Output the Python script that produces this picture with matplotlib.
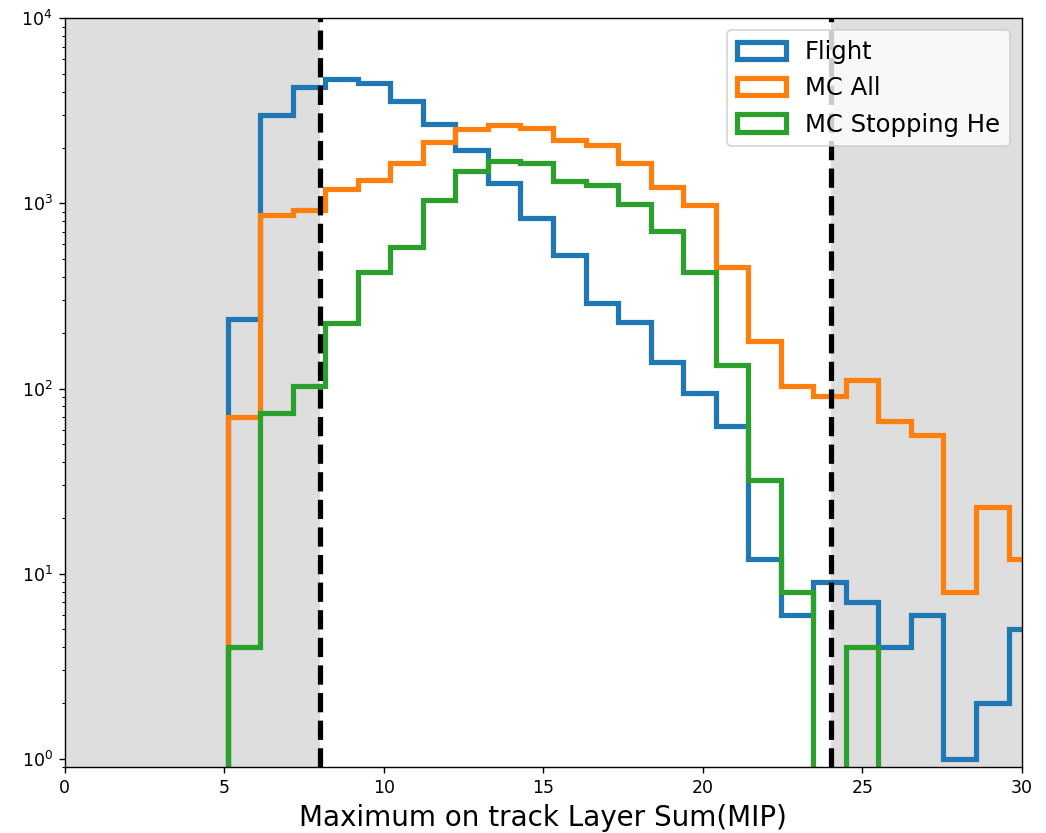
import numpy as np
import matplotlib
matplotlib.use("Agg")
import matplotlib.pyplot as plt

# bin edges (MIP)
edges = np.linspace(5.1, 30.6, 26)

flight = [237, 3020, 4260, 4730, 4480, 3580, 2670, 1937, 1291, 839, 525, 288, 229,
          139, 95, 63, 12, 6, 9, 7, 4, 6, 1, 2, 5]
mc_all = [70, 863, 919, 1203, 1334, 1655, 2148, 2539, 2645, 2558, 2194, 2061, 1663,
          1228, 977, 454, 181, 103, 91, 111, 67, 56, 8, 23, 12]
mc_stop = [4, 74, 103, 227, 426, 582, 1041, 1493, 1691, 1663, 1319, 1265, 998,
           708, 426, 134, 32, 8, 0, 4, 0, 0, 0, 0, 0]

labels = ["Flight", "MC All", "MC Stopping He"]
cut_lo, cut_hi = 8, 24

centers = 0.5 * (edges[:-1] + edges[1:])

fig = plt.figure(figsize=(8.368, 6.664), dpi=125)
ax = fig.add_axes([0.062, 0.079, 0.915, 0.899])

ax.axvspan(0, cut_lo, color='#dedede', lw=0, zorder=0)
ax.axvspan(cut_hi, 30, color='#dedede', lw=0, zorder=0)

for vals, lab in zip([flight, mc_all, mc_stop], labels):
    ax.hist(centers, bins=edges, weights=vals, histtype='step', lw=3, log=True, label=lab)

ax.axvline(cut_lo, color='k', ls='--', lw=3)
ax.axvline(cut_hi, color='k', ls='--', lw=3)

ax.set_xlim(0, 30)
ax.set_ylim(0.9, 1e4)
ax.set_xlabel("Maximum on track Layer Sum(MIP)", fontsize=16)
ax.legend(loc='upper right', fontsize=14)

fig.savefig("out.png", dpi=125)
